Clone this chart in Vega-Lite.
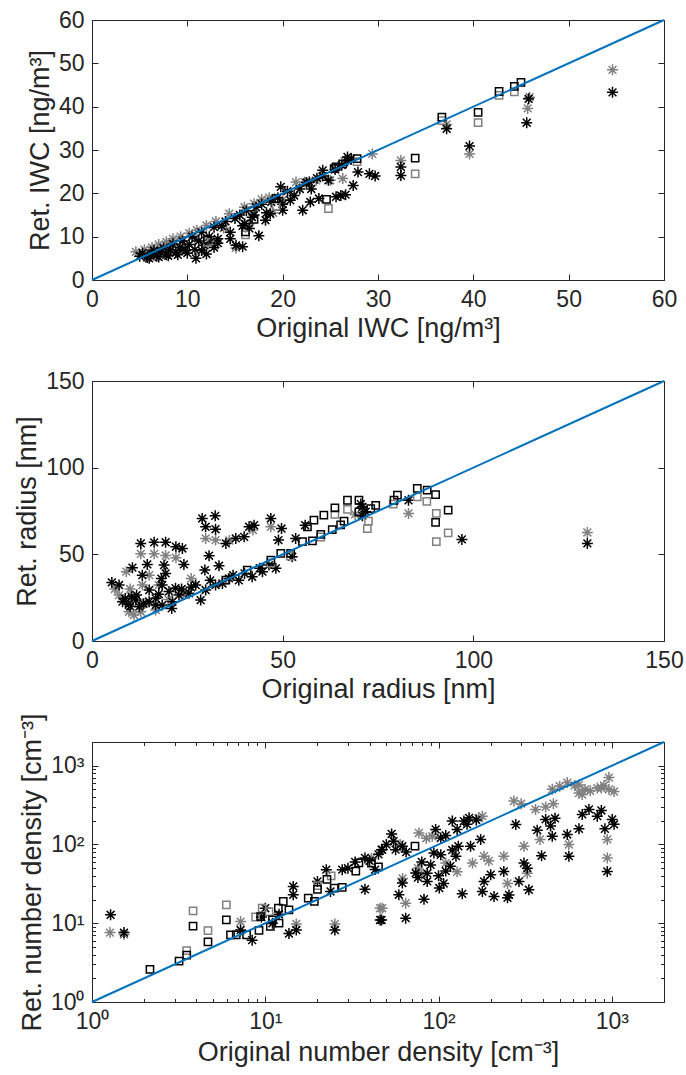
{
  "$schema": "https://vega.github.io/schema/vega-lite/v6.json",
  "padding": {"left": 13, "top": 8, "right": 5, "bottom": 5},
  "spacing": 101,
  "bounds": "flush",
  "config": {
    "font": "Liberation Sans",
    "view": {"stroke": "#262626", "strokeWidth": 1},
    "axis": {
      "labelFont": "Liberation Sans", "titleFont": "Liberation Sans",
      "labelFontSize": 23, "titleFontSize": 27, "titleFontWeight": "normal",
      "labelColor": "#262626", "titleColor": "#262626", "tickColor": "#262626",
      "grid": false, "domain": false, "tickSize": -6, "tickWidth": 1,
      "labelFlush": false, "labelOverlap": false, "labelPadding": 14, "titlePadding": 4
    }
  },
  "datasets": {
    "l1": [{"x": 0, "y": 0}, {"x": 60, "y": 60}],
    "l2": [{"x": 0, "y": 0}, {"x": 150, "y": 150}],
    "l3": [{"x": 1, "y": 1}, {"x": 2000, "y": 2000}],
    "p1": [
      {"x":4.6,"y":6.5,"s":"gs"},{"x":5.5,"y":7.0,"s":"gs"},{"x":6.3,"y":7.5,"s":"gs"},{"x":7.0,"y":8.2,"s":"gs"},{"x":7.8,"y":8.8,"s":"gs"},{"x":8.5,"y":9.5,"s":"gs"},{"x":9.3,"y":10.0,"s":"gs"},{"x":10.2,"y":10.8,"s":"gs"},{"x":11.0,"y":11.5,"s":"gs"},{"x":12.0,"y":12.6,"s":"gs"},{"x":13.0,"y":13.5,"s":"gs"},{"x":14.4,"y":15.3,"s":"gs"},{"x":15.1,"y":7.4,"s":"gs"},{"x":16.0,"y":16.8,"s":"gs"},{"x":17.0,"y":17.6,"s":"gs"},{"x":17.8,"y":18.6,"s":"gs"},{"x":18.6,"y":19.0,"s":"gs"},{"x":20.0,"y":18.5,"s":"gs"},{"x":21.4,"y":22.6,"s":"gs"},{"x":22.3,"y":22.6,"s":"gs"},{"x":23.5,"y":23.0,"s":"gs"},{"x":25.0,"y":23.0,"s":"gs"},{"x":26.3,"y":23.4,"s":"gs"},{"x":26.5,"y":27.5,"s":"gs"},{"x":29.4,"y":29.1,"s":"gs"},{"x":32.4,"y":27.6,"s":"gs"},{"x":37.2,"y":35.9,"s":"gs"},{"x":39.6,"y":29.1,"s":"gs"},{"x":45.7,"y":39.6,"s":"gs"},{"x":45.9,"y":42.2,"s":"gs"},{"x":54.6,"y":48.5,"s":"gs"},{"x":9.5,"y":7.5,"s":"gs"},{"x":12.5,"y":9.0,"s":"gs"},{"x":16.5,"y":13.0,"s":"gs"},{"x":19.0,"y":15.5,"s":"gs"},{"x":6.0,"y":6.3,"s":"gs"},{"x":8.0,"y":7.8,"s":"gs"},{"x":10.8,"y":9.5,"s":"gs"},{"x":13.8,"y":12.0,"s":"gs"},
      {"x":5.0,"y":5.5,"s":"ks"},{"x":5.3,"y":6.2,"s":"ks"},{"x":5.8,"y":5.2,"s":"ks"},{"x":6.2,"y":6.0,"s":"ks"},{"x":6.5,"y":6.8,"s":"ks"},{"x":6.8,"y":5.5,"s":"ks"},{"x":7.2,"y":6.5,"s":"ks"},{"x":7.5,"y":7.4,"s":"ks"},{"x":7.8,"y":5.8,"s":"ks"},{"x":8.2,"y":7.0,"s":"ks"},{"x":8.5,"y":8.3,"s":"ks"},{"x":8.8,"y":6.3,"s":"ks"},{"x":9.2,"y":7.5,"s":"ks"},{"x":9.5,"y":9.0,"s":"ks"},{"x":9.8,"y":6.8,"s":"ks"},{"x":10.2,"y":8.2,"s":"ks"},{"x":10.5,"y":10.0,"s":"ks"},{"x":10.8,"y":7.0,"s":"ks"},{"x":11.2,"y":9.0,"s":"ks"},{"x":11.5,"y":11.0,"s":"ks"},{"x":11.8,"y":8.0,"s":"ks"},{"x":12.3,"y":10.0,"s":"ks"},{"x":12.8,"y":12.2,"s":"ks"},{"x":13.2,"y":9.5,"s":"ks"},{"x":13.6,"y":12.5,"s":"ks"},{"x":14.0,"y":13.5,"s":"ks"},{"x":14.5,"y":11.0,"s":"ks"},{"x":15.0,"y":14.2,"s":"ks"},{"x":15.5,"y":15.0,"s":"ks"},{"x":15.8,"y":12.5,"s":"ks"},{"x":16.2,"y":16.0,"s":"ks"},{"x":16.8,"y":14.5,"s":"ks"},{"x":17.2,"y":16.8,"s":"ks"},{"x":17.8,"y":17.5,"s":"ks"},{"x":18.3,"y":15.5,"s":"ks"},{"x":18.8,"y":18.0,"s":"ks"},{"x":19.5,"y":19.0,"s":"ks"},{"x":20.0,"y":17.5,"s":"ks"},{"x":20.5,"y":20.5,"s":"ks"},{"x":21.2,"y":19.5,"s":"ks"},{"x":21.8,"y":21.0,"s":"ks"},{"x":22.5,"y":22.5,"s":"ks"},{"x":23.0,"y":21.0,"s":"ks"},{"x":23.6,"y":23.5,"s":"ks"},{"x":24.2,"y":24.0,"s":"ks"},{"x":24.8,"y":23.0,"s":"ks"},{"x":25.5,"y":25.5,"s":"ks"},{"x":26.2,"y":26.5,"s":"ks"},{"x":26.8,"y":27.5,"s":"ks"},{"x":27.2,"y":28.0,"s":"ks"},{"x":12.0,"y":6.0,"s":"ks"},{"x":10.9,"y":5.0,"s":"ks"},{"x":6.0,"y":5.0,"s":"ks"},{"x":7.0,"y":5.3,"s":"ks"},{"x":8.0,"y":5.6,"s":"ks"},{"x":9.0,"y":5.8,"s":"ks"},{"x":10.0,"y":6.2,"s":"ks"},{"x":11.5,"y":6.8,"s":"ks"},{"x":12.8,"y":7.5,"s":"ks"},
      {"x":15.1,"y":8.0,"s":"ks"},{"x":15.8,"y":7.7,"s":"ks"},{"x":16.5,"y":11.9,"s":"ks"},{"x":17.5,"y":10.2,"s":"ks"},{"x":18.2,"y":13.8,"s":"ks"},{"x":18.7,"y":15.3,"s":"ks"},{"x":20.0,"y":16.1,"s":"ks"},{"x":20.8,"y":18.4,"s":"ks"},{"x":22.1,"y":16.1,"s":"ks"},{"x":22.9,"y":18.0,"s":"ks"},{"x":23.8,"y":18.8,"s":"ks"},{"x":25.6,"y":19.2,"s":"ks"},{"x":19.8,"y":21.5,"s":"ks"},{"x":22.8,"y":22.6,"s":"ks"},{"x":24.2,"y":25.3,"s":"ks"},{"x":14.5,"y":9.5,"s":"ks"},{"x":13.2,"y":8.5,"s":"ks"},{"x":16.0,"y":13.0,"s":"ks"},{"x":17.0,"y":15.0,"s":"ks"},
      {"x":26.1,"y":19.5,"s":"ks"},{"x":26.6,"y":19.7,"s":"ks"},{"x":27.4,"y":21.8,"s":"ks"},{"x":27.9,"y":24.9,"s":"ks"},{"x":29.1,"y":24.5,"s":"ks"},{"x":29.7,"y":24.0,"s":"ks"},{"x":32.4,"y":26.1,"s":"ks"},{"x":32.4,"y":24.1,"s":"ks"},{"x":37.2,"y":34.9,"s":"ks"},{"x":39.6,"y":30.9,"s":"ks"},{"x":45.6,"y":36.3,"s":"ks"},{"x":45.8,"y":41.8,"s":"ks"},{"x":54.6,"y":43.3,"s":"ks"},{"x":26.8,"y":28.4,"s":"ks"},
      {"x":24.8,"y":16.5,"s":"gq"},{"x":19.3,"y":17.0,"s":"gq"},{"x":33.9,"y":24.5,"s":"gq"},{"x":40.5,"y":36.3,"s":"gq"},{"x":44.3,"y":43.4,"s":"gq"},{"x":42.7,"y":42.6,"s":"gq"},{"x":27.8,"y":27.3,"s":"gq"},{"x":16.1,"y":10.4,"s":"gq"},{"x":12.1,"y":8.7,"s":"gq"},{"x":36.7,"y":36.8,"s":"gq"},
      {"x":24.6,"y":18.6,"s":"kq"},{"x":25.6,"y":26.1,"s":"kq"},{"x":17.0,"y":14.0,"s":"kq"},{"x":16.1,"y":11.1,"s":"kq"},{"x":12.1,"y":9.4,"s":"kq"},{"x":19.3,"y":18.8,"s":"kq"},{"x":25.4,"y":25.7,"s":"kq"},{"x":26.3,"y":26.8,"s":"kq"},{"x":27.8,"y":28.0,"s":"kq"},{"x":33.9,"y":28.1,"s":"kq"},{"x":36.7,"y":37.6,"s":"kq"},{"x":40.5,"y":38.7,"s":"kq"},{"x":42.7,"y":43.5,"s":"kq"},{"x":44.3,"y":44.7,"s":"kq"},{"x":45.0,"y":45.6,"s":"kq"}
    ],
    "p2": [
      {"x":9.7,"y":16.9,"s":"gs"},{"x":11,"y":15,"s":"gs"},{"x":12.8,"y":16.9,"s":"gs"},{"x":16.7,"y":17.9,"s":"gs"},{"x":7.1,"y":26.5,"s":"gs"},{"x":12.8,"y":50.3,"s":"gs"},{"x":16.3,"y":50.3,"s":"gs"},{"x":19.3,"y":49.3,"s":"gs"},{"x":29.8,"y":59.2,"s":"gs"},{"x":32.4,"y":58.2,"s":"gs"},{"x":17.5,"y":32.3,"s":"gs"},{"x":13.2,"y":32.3,"s":"gs"},{"x":46.9,"y":65.9,"s":"gs"},{"x":42.2,"y":64,"s":"gs"},{"x":83,"y":73.6,"s":"gs"},{"x":129.9,"y":62.6,"s":"gs"},{"x":14,"y":22,"s":"gs"},{"x":20,"y":24,"s":"gs"},{"x":24,"y":27,"s":"gs"},{"x":10,"y":30,"s":"gs"},{"x":22,"y":48,"s":"gs"},{"x":26,"y":36,"s":"gs"},{"x":36,"y":58,"s":"gs"},{"x":6,"y":30,"s":"gs"},{"x":9,"y":40,"s":"gs"},{"x":15,"y":38,"s":"gs"},{"x":71,"y":74,"s":"gs"},{"x":69,"y":73,"s":"gs"},
      {"x":5.2,"y":33.8,"s":"ks"},{"x":7.1,"y":32.3,"s":"ks"},{"x":12.8,"y":56.3,"s":"ks"},{"x":16.3,"y":56.9,"s":"ks"},{"x":19.3,"y":57,"s":"ks"},{"x":22.0,"y":54.4,"s":"ks"},{"x":23.7,"y":53.4,"s":"ks"},{"x":10.6,"y":42.3,"s":"ks"},{"x":14.5,"y":44.2,"s":"ks"},{"x":13.2,"y":38.0,"s":"ks"},{"x":18.9,"y":43.8,"s":"ks"},{"x":19.3,"y":39,"s":"ks"},{"x":24.1,"y":44.2,"s":"ks"},{"x":28.9,"y":70.7,"s":"ks"},{"x":32.3,"y":72.2,"s":"ks"},{"x":29.8,"y":65.9,"s":"ks"},{"x":32.4,"y":64.5,"s":"ks"},{"x":30.7,"y":49.2,"s":"ks"},{"x":33.3,"y":43.4,"s":"ks"},{"x":29.6,"y":40.9,"s":"ks"},{"x":35.1,"y":56.3,"s":"ks"},{"x":37.7,"y":59.2,"s":"ks"},{"x":39.9,"y":60.1,"s":"ks"},{"x":41.2,"y":65.9,"s":"ks"},{"x":42.5,"y":66.8,"s":"ks"},{"x":46.9,"y":70.7,"s":"ks"},{"x":49.7,"y":64.9,"s":"ks"},{"x":48.9,"y":58.2,"s":"ks"},{"x":53.4,"y":59.2,"s":"ks"},{"x":55.9,"y":66.8,"s":"ks"},{"x":52.5,"y":48.6,"s":"ks"},{"x":48.2,"y":41.9,"s":"ks"},
      {"x":8,"y":22.7,"s":"ks"},{"x":9.6,"y":21,"s":"ks"},{"x":11.5,"y":23.6,"s":"ks"},{"x":12.4,"y":19.8,"s":"ks"},{"x":15,"y":22.7,"s":"ks"},{"x":16.7,"y":24.6,"s":"ks"},{"x":18.4,"y":20.7,"s":"ks"},{"x":21.1,"y":22.7,"s":"ks"},{"x":22.8,"y":26.5,"s":"ks"},{"x":25.4,"y":27.5,"s":"ks"},{"x":27.2,"y":32.3,"s":"ks"},{"x":28.5,"y":23.6,"s":"ks"},{"x":29.8,"y":29.4,"s":"ks"},{"x":32.4,"y":32.3,"s":"ks"},{"x":34.2,"y":33.2,"s":"ks"},{"x":35.9,"y":36.1,"s":"ks"},{"x":38.5,"y":35,"s":"ks"},{"x":42,"y":37.1,"s":"ks"},{"x":44.7,"y":40,"s":"ks"},{"x":46.4,"y":43.8,"s":"ks"},{"x":18.4,"y":32.3,"s":"ks"},{"x":18.2,"y":36,"s":"ks"},{"x":15,"y":29.4,"s":"ks"},{"x":20.2,"y":28.6,"s":"ks"},{"x":21.9,"y":30.5,"s":"ks"},{"x":8.7,"y":24.5,"s":"ks"},{"x":10.4,"y":25.5,"s":"ks"},{"x":11.7,"y":26.5,"s":"ks"},{"x":16.7,"y":20.7,"s":"ks"},{"x":20.9,"y":18.8,"s":"ks"},{"x":10,"y":20,"s":"ks"},{"x":13.5,"y":21.5,"s":"ks"},{"x":17.5,"y":27,"s":"ks"},{"x":23.5,"y":30,"s":"ks"},{"x":26,"y":31,"s":"ks"},{"x":31,"y":35,"s":"ks"},{"x":37,"y":38,"s":"ks"},{"x":40,"y":39,"s":"ks"},{"x":44,"y":42,"s":"ks"},
      {"x":83,"y":81.2,"s":"ks"},{"x":70.9,"y":77.4,"s":"ks"},{"x":70.5,"y":79,"s":"ks"},{"x":71.8,"y":74.6,"s":"ks"},{"x":70.9,"y":72.3,"s":"ks"},{"x":97,"y":58.6,"s":"ks"},{"x":129.9,"y":56.3,"s":"ks"},
      {"x":63.7,"y":73,"s":"gq"},{"x":67,"y":76,"s":"gq"},{"x":72.5,"y":69.1,"s":"gq"},{"x":72.2,"y":64.9,"s":"gq"},{"x":85.3,"y":83.2,"s":"gq"},{"x":87.8,"y":80.6,"s":"gq"},{"x":90.3,"y":73.6,"s":"gq"},{"x":93.4,"y":62.4,"s":"gq"},{"x":90.3,"y":57.3,"s":"gq"},{"x":79,"y":79,"s":"gq"},{"x":60,"y":60,"s":"gq"},{"x":52,"y":49,"s":"gq"},{"x":46.9,"y":45,"s":"gq"},
      {"x":40.7,"y":40.9,"s":"kq"},{"x":46.9,"y":46.7,"s":"kq"},{"x":49.5,"y":50.5,"s":"kq"},{"x":52.1,"y":50.5,"s":"kq"},{"x":55.2,"y":57.3,"s":"kq"},{"x":57.8,"y":57.7,"s":"kq"},{"x":60,"y":61.5,"s":"kq"},{"x":63,"y":64.3,"s":"kq"},{"x":56.5,"y":65.9,"s":"kq"},{"x":58.2,"y":69.7,"s":"kq"},{"x":60.8,"y":72.6,"s":"kq"},{"x":63.7,"y":76.8,"s":"kq"},{"x":35.1,"y":35.1,"s":"kq"},{"x":67,"y":81.2,"s":"kq"},{"x":70,"y":81.2,"s":"kq"},{"x":74.4,"y":78.3,"s":"kq"},{"x":73.1,"y":76.4,"s":"kq"},{"x":70,"y":74.5,"s":"kq"},{"x":79.2,"y":81.2,"s":"kq"},{"x":80.1,"y":84.1,"s":"kq"},{"x":85.3,"y":88,"s":"kq"},{"x":87.9,"y":87,"s":"kq"},{"x":90.1,"y":84.5,"s":"kq"},{"x":93.4,"y":75.5,"s":"kq"},{"x":90.1,"y":68.4,"s":"kq"},{"x":66.1,"y":69.1,"s":"kq"},{"x":65.2,"y":67,"s":"kq"}
    ],
    "p3": [
      {"x":1.27,"y":7.6,"s":"gs"},{"x":1.53,"y":7.2,"s":"gs"},{"x":7.2,"y":10.5,"s":"gs"},{"x":15.1,"y":9.8,"s":"gs"},{"x":25.2,"y":9.8,"s":"gs"},{"x":46,"y":15.5,"s":"gs"},{"x":41,"y":67,"s":"gs"},{"x":962,"y":707,"s":"gs"},{"x":553,"y":611,"s":"gs"},{"x":453,"y":502,"s":"gs"},{"x":272,"y":356,"s":"gs"},{"x":300,"y":330,"s":"gs"},{"x":363,"y":279,"s":"gs"},{"x":415,"y":300,"s":"gs"},{"x":460,"y":330,"s":"gs"},{"x":646,"y":570,"s":"gs"},{"x":675,"y":430,"s":"gs"},{"x":700,"y":500,"s":"gs"},{"x":824,"y":520,"s":"gs"},{"x":870,"y":520,"s":"gs"},{"x":962,"y":500,"s":"gs"},{"x":1030,"y":470,"s":"gs"},{"x":646,"y":450,"s":"gs"},{"x":610,"y":560,"s":"gs"},{"x":179,"y":229,"s":"gs"},{"x":170,"y":215,"s":"gs"},{"x":92,"y":127,"s":"gs"},{"x":311,"y":95,"s":"gs"},{"x":385,"y":116,"s":"gs"},{"x":565,"y":100,"s":"gs"},{"x":941,"y":116,"s":"gs"},{"x":941,"y":67.5,"s":"gs"},{"x":325,"y":43,"s":"gs"},{"x":238,"y":71,"s":"gs"},{"x":183,"y":71,"s":"gs"},{"x":195,"y":62,"s":"gs"},{"x":157,"y":58,"s":"gs"},{"x":128,"y":45,"s":"gs"},{"x":76,"y":50,"s":"gs"},{"x":110,"y":58,"s":"gs"},{"x":80,"y":42,"s":"gs"},{"x":62,"y":37,"s":"gs"},{"x":64.6,"y":18,"s":"gs"},{"x":47.3,"y":15.5,"s":"gs"},{"x":250,"y":32,"s":"gs"},{"x":77,"y":140,"s":"gs"},{"x":85,"y":120,"s":"gs"},{"x":60,"y":100,"s":"gs"},{"x":500,"y":550,"s":"gs"},{"x":750,"y":480,"s":"gs"},{"x":900,"y":560,"s":"gs"},
      {"x":1.28,"y":12.8,"s":"ks"},{"x":1.53,"y":7.6,"s":"ks"},{"x":7.2,"y":8.2,"s":"ks"},{"x":8.4,"y":6.1,"s":"ks"},{"x":10,"y":15.5,"s":"ks"},{"x":13.7,"y":7.4,"s":"ks"},{"x":15.1,"y":8.2,"s":"ks"},{"x":14.5,"y":29.3,"s":"ks"},{"x":14.5,"y":23,"s":"ks"},{"x":20,"y":34,"s":"ks"},{"x":22.5,"y":47.9,"s":"ks"},{"x":23.8,"y":25.3,"s":"ks"},{"x":27.8,"y":47.9,"s":"ks"},{"x":25.2,"y":8.2,"s":"ks"},{"x":37.6,"y":67.5,"s":"ks"},{"x":37.6,"y":27,"s":"ks"},{"x":46.9,"y":86,"s":"ks"},{"x":46,"y":11,"s":"ks"},{"x":43,"y":48,"s":"ks"},
      {"x":53.6,"y":136,"s":"ks"},{"x":47.3,"y":86,"s":"ks"},{"x":56.5,"y":86,"s":"ks"},{"x":61.8,"y":95,"s":"ks"},{"x":96.2,"y":155,"s":"ks"},{"x":103,"y":121,"s":"ks"},{"x":94,"y":78,"s":"ks"},{"x":103,"y":74,"s":"ks"},{"x":120,"y":198,"s":"ks"},{"x":128,"y":155,"s":"ks"},{"x":140,"y":198,"s":"ks"},{"x":150,"y":218,"s":"ks"},{"x":165,"y":205,"s":"ks"},{"x":146,"y":180,"s":"ks"},{"x":175,"y":116,"s":"ks"},{"x":153,"y":95,"s":"ks"},{"x":130,"y":95,"s":"ks"},{"x":126,"y":71,"s":"ks"},{"x":117,"y":53,"s":"ks"},{"x":110,"y":46,"s":"ks"},{"x":100,"y":40,"s":"ks"},{"x":107,"y":32,"s":"ks"},{"x":101,"y":28,"s":"ks"},{"x":82.4,"y":20.2,"s":"ks"},{"x":73.8,"y":43.4,"s":"ks"},{"x":86,"y":43,"s":"ks"},{"x":76,"y":38,"s":"ks"},{"x":86,"y":34,"s":"ks"},{"x":61.8,"y":32.4,"s":"ks"},{"x":59,"y":23,"s":"ks"},{"x":64.6,"y":11.6,"s":"ks"},{"x":46.9,"y":11,"s":"ks"},{"x":137,"y":23.6,"s":"ks"},{"x":179,"y":25.3,"s":"ks"},{"x":209,"y":21.8,"s":"ks"},{"x":255,"y":22.9,"s":"ks"},{"x":250,"y":21,"s":"ks"},{"x":183,"y":34,"s":"ks"},{"x":200,"y":41.3,"s":"ks"},{"x":238,"y":45.5,"s":"ks"},{"x":291,"y":34,"s":"ks"},{"x":332,"y":26.6,"s":"ks"},{"x":311,"y":58,"s":"ks"},{"x":325,"y":50,"s":"ks"},{"x":393,"y":72,"s":"ks"},{"x":279,"y":179,"s":"ks"},{"x":371,"y":152,"s":"ks"},{"x":415,"y":208,"s":"ks"},{"x":443,"y":172,"s":"ks"},{"x":453,"y":127,"s":"ks"},{"x":470,"y":215,"s":"ks"},{"x":553,"y":134,"s":"ks"},{"x":565,"y":71,"s":"ks"},{"x":646,"y":158,"s":"ks"},{"x":675,"y":241,"s":"ks"},{"x":738,"y":279,"s":"ks"},{"x":824,"y":229,"s":"ks"},{"x":870,"y":270,"s":"ks"},{"x":912,"y":158,"s":"ks"},{"x":1005,"y":208,"s":"ks"},{"x":1030,"y":180,"s":"ks"},{"x":941,"y":45.5,"s":"ks"},
      {"x":9.5,"y":12,"s":"ks"},{"x":11,"y":10,"s":"ks"},{"x":12,"y":13,"s":"ks"},{"x":30,"y":50,"s":"ks"},{"x":33,"y":60,"s":"ks"},{"x":40,"y":62,"s":"ks"},{"x":45,"y":75,"s":"ks"},{"x":50,"y":100,"s":"ks"},{"x":55,"y":110,"s":"ks"},{"x":65,"y":80,"s":"ks"},{"x":80,"y":60,"s":"ks"},{"x":90,"y":55,"s":"ks"},{"x":110,"y":130,"s":"ks"},{"x":120,"y":85,"s":"ks"},
      {"x":3.52,"y":4.5,"s":"gq"},{"x":3.83,"y":14.4,"s":"gq"},{"x":4.67,"y":8.05,"s":"gq"},{"x":5.96,"y":17.1,"s":"gq"},{"x":9.6,"y":15.5,"s":"gq"},{"x":8.8,"y":12,"s":"gq"},{"x":20,"y":30,"s":"gq"},{"x":24,"y":40,"s":"gq"},{"x":10.5,"y":14,"s":"gq"},
      {"x":2.16,"y":2.59,"s":"kq"},{"x":3.18,"y":3.3,"s":"kq"},{"x":3.52,"y":3.94,"s":"kq"},{"x":3.83,"y":9.2,"s":"kq"},{"x":4.67,"y":5.8,"s":"kq"},{"x":5.96,"y":11,"s":"kq"},{"x":6.3,"y":7.1,"s":"kq"},{"x":6.8,"y":7.1,"s":"kq"},{"x":7.8,"y":7.1,"s":"kq"},{"x":9.2,"y":8.1,"s":"kq"},{"x":9.4,"y":12.1,"s":"kq"},{"x":10.7,"y":9.1,"s":"kq"},{"x":11,"y":11,"s":"kq"},{"x":11.9,"y":15.5,"s":"kq"},{"x":12.7,"y":18.9,"s":"kq"},{"x":13.7,"y":14.8,"s":"kq"},{"x":12,"y":10,"s":"kq"},{"x":17.7,"y":20.8,"s":"kq"},{"x":19.2,"y":19,"s":"kq"},{"x":20,"y":27,"s":"kq"},{"x":22.7,"y":36,"s":"kq"},{"x":25,"y":28,"s":"kq"},{"x":27.8,"y":28.5,"s":"kq"},{"x":34.7,"y":58.2,"s":"kq"},{"x":33.3,"y":46,"s":"kq"},{"x":41,"y":58,"s":"kq"},{"x":73.1,"y":95,"s":"kq"},{"x":45,"y":52,"s":"kq"}
    ]
  },
  "vconcat": [
    {
      "width": 572, "height": 260,
      "layer": [
        {
          "data": {"name": "p1"},
          "mark": {"type": "point", "filled": false, "size": 121, "strokeWidth": 1.5, "opacity": 1},
          "encoding": {
            "x": {"field": "x", "type": "quantitative", "scale": {"domain": [0, 60], "nice": false, "zero": false},
                  "axis": {"title": "Original IWC [ng/m³]", "values": [0, 10, 20, 30, 40, 50, 60]}},
            "y": {"field": "y", "type": "quantitative", "scale": {"domain": [0, 60], "nice": false, "zero": false},
                  "axis": {"title": "Ret. IWC [ng/m³]", "values": [0, 10, 20, 30, 40, 50, 60]}},
            "color": {"field": "s", "type": "nominal", "scale": {"domain": ["gs", "ks", "gq", "kq"], "range": ["#808080", "#000000", "#808080", "#000000"]}, "legend": null},
            "shape": {"field": "s", "type": "nominal", "scale": {"domain": ["gs", "ks", "gq", "kq"], "range": ["M-1,0L1,0M0,-1L0,1M-0.71,-0.71L0.71,0.71M-0.71,0.71L0.71,-0.71", "M-1,0L1,0M0,-1L0,1M-0.71,-0.71L0.71,0.71M-0.71,0.71L0.71,-0.71", "M-0.66,-0.66L0.66,-0.66L0.66,0.66L-0.66,0.66Z", "M-0.66,-0.66L0.66,-0.66L0.66,0.66L-0.66,0.66Z"]}, "legend": null}
          }
        },
        {
          "data": {"name": "l1"},
          "mark": {"type": "line", "color": "#0072BD", "strokeWidth": 2},
          "encoding": {
            "x": {"field": "x", "type": "quantitative", "scale": {"domain": [0, 60], "nice": false, "zero": false},
                  "axis": {"orient": "top", "labels": false, "title": null, "values": [0, 10, 20, 30, 40, 50, 60]}},
            "y": {"field": "y", "type": "quantitative", "scale": {"domain": [0, 60], "nice": false, "zero": false},
                  "axis": {"orient": "right", "labels": false, "title": null, "values": [0, 10, 20, 30, 40, 50, 60]}}
          }
        }
      ],
      "resolve": {"axis": {"x": "independent", "y": "independent"}}
    },
    {
      "width": 572, "height": 260,
      "layer": [
        {
          "data": {"name": "p2"},
          "mark": {"type": "point", "filled": false, "size": 121, "strokeWidth": 1.5, "opacity": 1},
          "encoding": {
            "x": {"field": "x", "type": "quantitative", "scale": {"domain": [0, 150], "nice": false, "zero": false},
                  "axis": {"title": "Original radius [nm]", "values": [0, 50, 100, 150]}},
            "y": {"field": "y", "type": "quantitative", "scale": {"domain": [0, 150], "nice": false, "zero": false},
                  "axis": {"title": "Ret. radius [nm]", "values": [0, 50, 100, 150]}},
            "color": {"field": "s", "type": "nominal", "scale": {"domain": ["gs", "ks", "gq", "kq"], "range": ["#808080", "#000000", "#808080", "#000000"]}, "legend": null},
            "shape": {"field": "s", "type": "nominal", "scale": {"domain": ["gs", "ks", "gq", "kq"], "range": ["M-1,0L1,0M0,-1L0,1M-0.71,-0.71L0.71,0.71M-0.71,0.71L0.71,-0.71", "M-1,0L1,0M0,-1L0,1M-0.71,-0.71L0.71,0.71M-0.71,0.71L0.71,-0.71", "M-0.66,-0.66L0.66,-0.66L0.66,0.66L-0.66,0.66Z", "M-0.66,-0.66L0.66,-0.66L0.66,0.66L-0.66,0.66Z"]}, "legend": null}
          }
        },
        {
          "data": {"name": "l2"},
          "mark": {"type": "line", "color": "#0072BD", "strokeWidth": 2},
          "encoding": {
            "x": {"field": "x", "type": "quantitative", "scale": {"domain": [0, 150], "nice": false, "zero": false},
                  "axis": {"orient": "top", "labels": false, "title": null, "values": [0, 50, 100, 150]}},
            "y": {"field": "y", "type": "quantitative", "scale": {"domain": [0, 150], "nice": false, "zero": false},
                  "axis": {"orient": "right", "labels": false, "title": null, "values": [0, 50, 100, 150]}}
          }
        }
      ],
      "resolve": {"axis": {"x": "independent", "y": "independent"}}
    },
    {
      "width": 572, "height": 260,
      "layer": [
        {
          "data": {"name": "p3"},
          "mark": {"type": "point", "filled": false, "size": 121, "strokeWidth": 1.5, "opacity": 1},
          "encoding": {
            "x": {"field": "x", "type": "quantitative", "scale": {"type": "log", "domain": [1, 2000], "nice": false},
                  "axis": {"title": "Original number density [cm⁻³]", "values": [1,2,3,4,5,6,7,8,9,10,20,30,40,50,60,70,80,90,100,200,300,400,500,600,700,800,900,1000,2000],
                           "labelExpr": "datum.value == 1 ? '10⁰' : datum.value == 10 ? '10¹' : datum.value == 100 ? '10²' : datum.value == 1000 ? '10³' : ''",
                           "tickSize": {"condition": {"test": "datum.value == 1 || datum.value == 10 || datum.value == 100 || datum.value == 1000", "value": -6}, "value": -3.5}}},
            "y": {"field": "y", "type": "quantitative", "scale": {"type": "log", "domain": [1, 2000], "nice": false},
                  "axis": {"title": "Ret. number density [cm⁻³]", "values": [1,2,3,4,5,6,7,8,9,10,20,30,40,50,60,70,80,90,100,200,300,400,500,600,700,800,900,1000,2000],
                           "labelExpr": "datum.value == 1 ? '10⁰' : datum.value == 10 ? '10¹' : datum.value == 100 ? '10²' : datum.value == 1000 ? '10³' : ''",
                           "tickSize": {"condition": {"test": "datum.value == 1 || datum.value == 10 || datum.value == 100 || datum.value == 1000", "value": -6}, "value": -3.5}}},
            "color": {"field": "s", "type": "nominal", "scale": {"domain": ["gs", "ks", "gq", "kq"], "range": ["#808080", "#000000", "#808080", "#000000"]}, "legend": null},
            "shape": {"field": "s", "type": "nominal", "scale": {"domain": ["gs", "ks", "gq", "kq"], "range": ["M-1,0L1,0M0,-1L0,1M-0.71,-0.71L0.71,0.71M-0.71,0.71L0.71,-0.71", "M-1,0L1,0M0,-1L0,1M-0.71,-0.71L0.71,0.71M-0.71,0.71L0.71,-0.71", "M-0.66,-0.66L0.66,-0.66L0.66,0.66L-0.66,0.66Z", "M-0.66,-0.66L0.66,-0.66L0.66,0.66L-0.66,0.66Z"]}, "legend": null}
          }
        },
        {
          "data": {"name": "l3"},
          "mark": {"type": "line", "color": "#0072BD", "strokeWidth": 2},
          "encoding": {
            "x": {"field": "x", "type": "quantitative", "scale": {"type": "log", "domain": [1, 2000], "nice": false},
                  "axis": {"orient": "top", "labels": false, "title": null, "values": [1,2,3,4,5,6,7,8,9,10,20,30,40,50,60,70,80,90,100,200,300,400,500,600,700,800,900,1000,2000],
                           "tickSize": {"condition": {"test": "datum.value == 1 || datum.value == 10 || datum.value == 100 || datum.value == 1000", "value": -6}, "value": -3.5}}},
            "y": {"field": "y", "type": "quantitative", "scale": {"type": "log", "domain": [1, 2000], "nice": false},
                  "axis": {"orient": "right", "labels": false, "title": null, "values": [1,2,3,4,5,6,7,8,9,10,20,30,40,50,60,70,80,90,100,200,300,400,500,600,700,800,900,1000,2000],
                           "tickSize": {"condition": {"test": "datum.value == 1 || datum.value == 10 || datum.value == 100 || datum.value == 1000", "value": -6}, "value": -3.5}}}
          }
        }
      ],
      "resolve": {"axis": {"x": "independent", "y": "independent"}}
    }
  ]
}
